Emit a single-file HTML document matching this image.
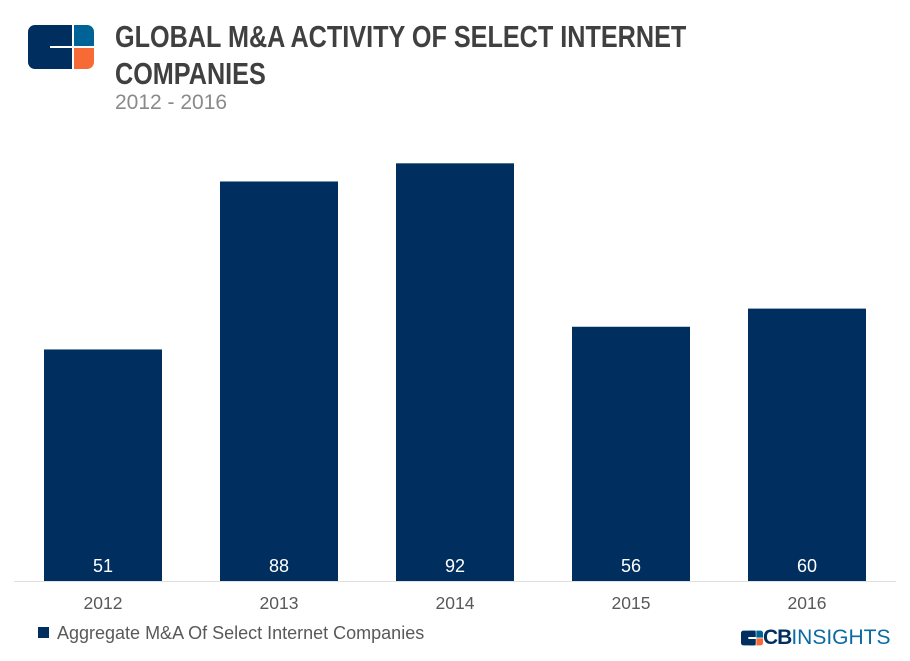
<!DOCTYPE html>
<html><head><meta charset="utf-8"><style>
body{margin:0;background:#fff;width:910px;height:661px;overflow:hidden;position:relative;font-family:"Liberation Sans",sans-serif}
.t{position:absolute;left:115px;font-family:"Liberation Sans Narrow","Liberation Sans",sans-serif;font-weight:bold;font-size:31px;color:#404040;line-height:37px;transform-origin:left top;transform:scaleX(0.813);white-space:nowrap}
</style></head><body>
<svg style="position:absolute;left:28px;top:25px" width="66" height="44" viewBox="0 0 66 44">
<rect x="0" y="0" width="44" height="44" rx="7" fill="#002f5f"/>
<rect x="24" y="0" width="20" height="44" fill="#002f5f"/>
<path d="M46 0h13a7 7 0 0 1 7 7v14H46z" fill="#006397"/>
<path d="M46 23h20v14a7 7 0 0 1-7 7H46z" fill="#f86a35"/>
<rect x="22" y="21" width="24" height="2" fill="#fff"/>
</svg>
<div class="t" style="top:18px">GLOBAL M&amp;A ACTIVITY OF SELECT INTERNET<br>COMPANIES</div>
<div style="position:absolute;left:115px;top:91px;font-size:21px;color:#8a8a8a">2012 - 2016</div>
<svg id="c" style="position:absolute;left:0;top:0" width="910" height="661"></svg>
<div style="position:absolute;left:38px;top:623px;font-size:18px;color:#595959;white-space:nowrap"><span style="display:inline-block;width:11px;height:11px;background:#002f5f;margin-right:8px;vertical-align:1px"></span>Aggregate M&amp;A Of Select Internet Companies</div>
<div style="position:absolute;left:741px;top:626px;white-space:nowrap">
<svg width="22" height="16" viewBox="0 0 66 44" style="vertical-align:-2px"><rect width="44" height="44" rx="7" fill="#002f5f"/><rect x="24" width="20" height="44" fill="#002f5f"/><path d="M46 0h13a7 7 0 0 1 7 7v14H46z" fill="#006397"/><path d="M46 23h20v14a7 7 0 0 1-7 7H46z" fill="#f86a35"/><rect x="22" y="19" width="24" height="6" fill="#fff"/></svg><span style="font-size:21px;font-weight:bold;color:#002f5f;letter-spacing:-1px">CB</span><span style="font-size:21px;color:#0a6aa1">INSIGHTS</span></div>
<script>
const categories=["2012","2013","2014","2015","2016"];
const values=[51,88,92,56,60];
const svg=document.getElementById('c');
const NS='http://www.w3.org/2000/svg';
const base=581, scale=4.54, x0=44, step=176, bw=118;
function xPos(i){return x0+i*step;}
function yPos(v){return base-v*scale;}
const ax=document.createElementNS(NS,'line');
ax.setAttribute('x1',14);ax.setAttribute('x2',896);ax.setAttribute('y1',base+0.5);ax.setAttribute('y2',base+0.5);
ax.setAttribute('stroke','#e0e0e0');


svg.appendChild(ax);
values.forEach((v,i)=>{
 const r=document.createElementNS(NS,'rect');
 r.setAttribute('x',xPos(i));r.setAttribute('y',yPos(v));r.setAttribute('width',bw);r.setAttribute('height',base-yPos(v));r.setAttribute('fill','#002f5f');
 
 
 svg.appendChild(r);
 const t=document.createElementNS(NS,'text');
 t.setAttribute('x',xPos(i)+bw/2);t.setAttribute('y',base-9);t.setAttribute('text-anchor','middle');
 t.setAttribute('fill','#fff');t.setAttribute('font-size','18');t.textContent=v;
 
 
 svg.appendChild(t);
 const c=document.createElementNS(NS,'text');
 c.setAttribute('x',xPos(i)+bw/2);c.setAttribute('y',609);c.setAttribute('text-anchor','middle');
 c.setAttribute('fill','#595959');c.setAttribute('font-size','17.5');c.textContent=categories[i];
 
 
 svg.appendChild(c);
});
</script>
</body></html>
